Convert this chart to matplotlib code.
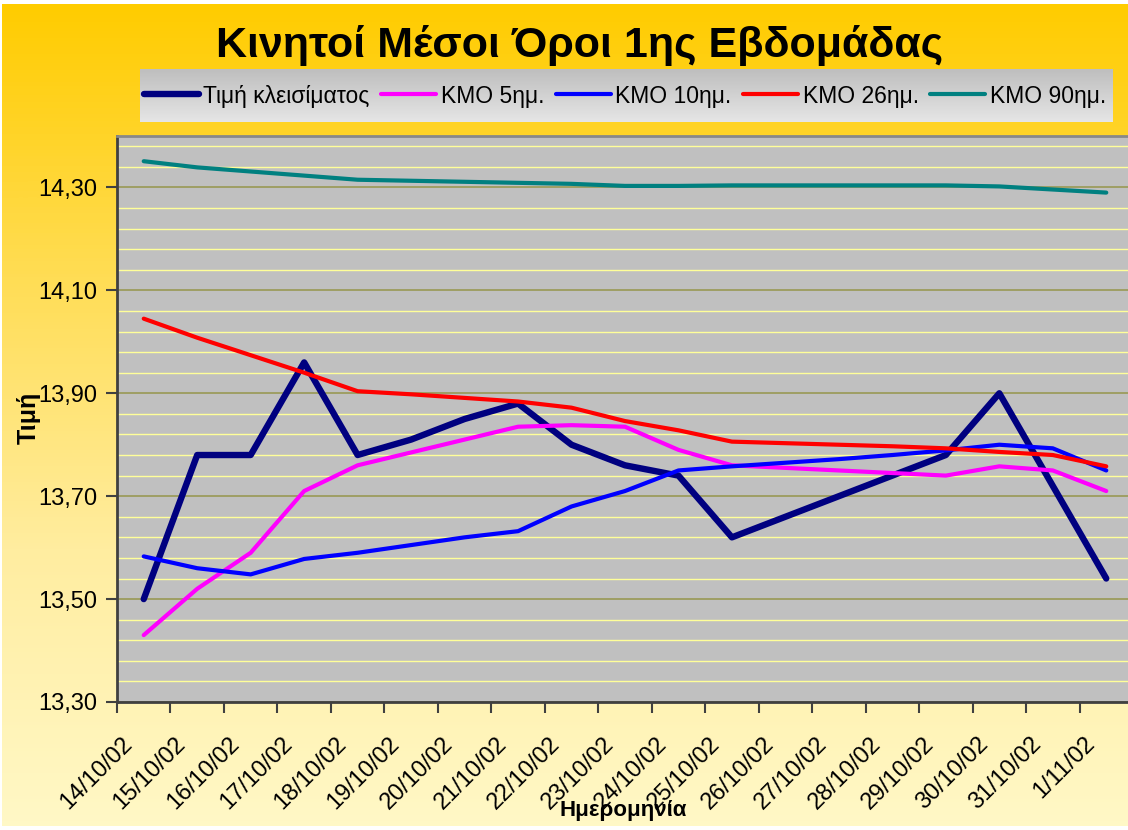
import numpy as np
import matplotlib
matplotlib.use('Agg')
import matplotlib.pyplot as plt
from matplotlib.colors import LinearSegmentedColormap
from matplotlib.transforms import ScaledTranslation

plt.rcParams['font.family'] = ['Liberation Sans', 'DejaVu Sans']

# data
dates = ['14/10/02', '15/10/02', '16/10/02', '17/10/02', '18/10/02', '19/10/02',
         '20/10/02', '21/10/02', '22/10/02', '23/10/02', '24/10/02', '25/10/02',
         '26/10/02', '27/10/02', '28/10/02', '29/10/02', '30/10/02', '31/10/02',
         '1/11/02']
close = [13.50, 13.78, 13.78, 13.96, 13.78, 13.81, 13.85, 13.88, 13.80, 13.76,
         13.74, 13.62, 13.66, 13.70, 13.74, 13.78, 13.90, 13.72, 13.54]
kmo5 = [13.43, 13.52, 13.59, 13.71, 13.76, 13.785, 13.81, 13.835, 13.838, 13.835,
        13.79, 13.76, 13.755, 13.75, 13.745, 13.74, 13.758, 13.75, 13.71]
kmo10 = [13.583, 13.56, 13.548, 13.578, 13.59, 13.605, 13.62, 13.632, 13.68, 13.71,
         13.75, 13.758, 13.765, 13.772, 13.78, 13.789, 13.80, 13.793, 13.75]
kmo26 = [14.045, 14.008, 13.974, 13.94, 13.904, 13.898, 13.891, 13.884, 13.872, 13.846,
         13.828, 13.806, 13.803, 13.80, 13.797, 13.793, 13.786, 13.78, 13.758]
kmo90 = [14.351, 14.339, 14.331, 14.323, 14.315, 14.313, 14.311, 14.309, 14.307, 14.303,
         14.303, 14.304, 14.304, 14.304, 14.304, 14.304, 14.302, 14.296, 14.29]
series_names = ['Τιμή κλεισίματος', 'ΚΜΟ 5ημ.', 'ΚΜΟ 10ημ.', 'ΚΜΟ 26ημ.', 'ΚΜΟ 90ημ.']
y_ticks = [13.30, 13.50, 13.70, 13.90, 14.10, 14.30]

W, H = 1128, 830
fig = plt.figure(figsize=(W / 100, H / 100), dpi=100)
fig.patch.set_facecolor('white')

# gradient backgrounds (chart area + legend box)
bg = fig.add_axes([0, 0, 1, 1])
grad = np.linspace(0, 1, 256).reshape(-1, 1)
gold = LinearSegmentedColormap.from_list('gold', ['#FFCC00', '#FFDD55', '#FFEDA0', '#FFF8C6'])
grey = LinearSegmentedColormap.from_list('grey', ['#BEBEBE', '#E6E6E6'])
bg.imshow(grad, extent=[2, W, 826, 5], cmap=gold, aspect='auto', interpolation='bicubic')
bg.imshow(grad, extent=[140, 1113, 122, 69], cmap=grey, aspect='auto', interpolation='bicubic')
bg.set_xlim(0, W)
bg.set_ylim(H, 0)
bg.axis('off')

ax = fig.add_axes([117 / W, 1 - 702 / H, 1016 / W, 566 / H])
ax.set_facecolor('#C0C0C0')
x = np.arange(len(dates))

ax.plot(x, close, color='#000080', lw=4.6, solid_joinstyle='round', solid_capstyle='round', label=series_names[0])
ax.plot(x, kmo5, color='#FF00FF', lw=3.0, solid_joinstyle='round', solid_capstyle='round', label=series_names[1])
ax.plot(x, kmo10, color='#0000FF', lw=3.0, solid_joinstyle='round', solid_capstyle='round', label=series_names[2])
ax.plot(x, kmo26, color='#FF0000', lw=3.0, solid_joinstyle='round', solid_capstyle='round', label=series_names[3])
ax.plot(x, kmo90, color='#008080', lw=3.0, solid_joinstyle='round', solid_capstyle='round', label=series_names[4])

ax.set_xlim(-0.5, len(dates) - 0.5)
ax.set_ylim(13.30, 14.40)
ax.set_yticks(y_ticks)
ax.set_yticklabels([f'{v:.2f}'.replace('.', ',') for v in y_ticks], fontsize=17)
ax.set_yticks(np.arange(13.30, 14.401, 0.04), minor=True)
ax.grid(which='major', axis='y', color='#999955', lw=1.2)
ax.grid(which='minor', axis='y', color='#FFFF99', lw=1.0)
ax.set_axisbelow(True)
ax.tick_params(axis='y', which='major', length=8, width=1.5, color='#404040', pad=6)
ax.tick_params(axis='y', which='minor', length=0)

ax.set_xticks(x)
ax.set_xticklabels(dates, rotation=45, ha='right', fontsize=17)
ax.set_xticks(np.arange(-0.5, len(dates), 1), minor=True)
ax.tick_params(axis='x', which='major', length=0, pad=22)
ax.tick_params(axis='x', which='minor', length=8, width=1.5, color='#404040')
for lab in ax.get_xticklabels():
    lab.set_transform(lab.get_transform() + ScaledTranslation(-7 / 100, 0, fig.dpi_scale_trans))

for side in ['left', 'bottom']:
    ax.spines[side].set_color('#404040')
    ax.spines[side].set_linewidth(2)
ax.spines['top'].set_color('#888888')
ax.spines['top'].set_linewidth(2)
ax.spines['right'].set_visible(False)

fig.text(580 / W, 1 - 57 / H, 'Κινητοί Μέσοι Όροι 1ης Εβδομάδας', ha='center', va='baseline',
         fontsize=31, fontweight='bold')
fig.text(623 / W, 1 - 810 / H, 'Ημερομηνία', ha='center', va='center', fontsize=16, fontweight='bold')
fig.text(29 / W, 1 - 418 / H, 'Τιμή', ha='center', va='center', rotation=90, fontsize=18, fontweight='bold')

fig.legend(loc='center', bbox_to_anchor=(625 / W, 1 - 96 / H), ncol=5, frameon=False,
           fontsize=16.5, handlelength=2.4, handletextpad=0.2, columnspacing=0.5,
           borderpad=0, borderaxespad=0)

fig.savefig('out.png', dpi=100)
